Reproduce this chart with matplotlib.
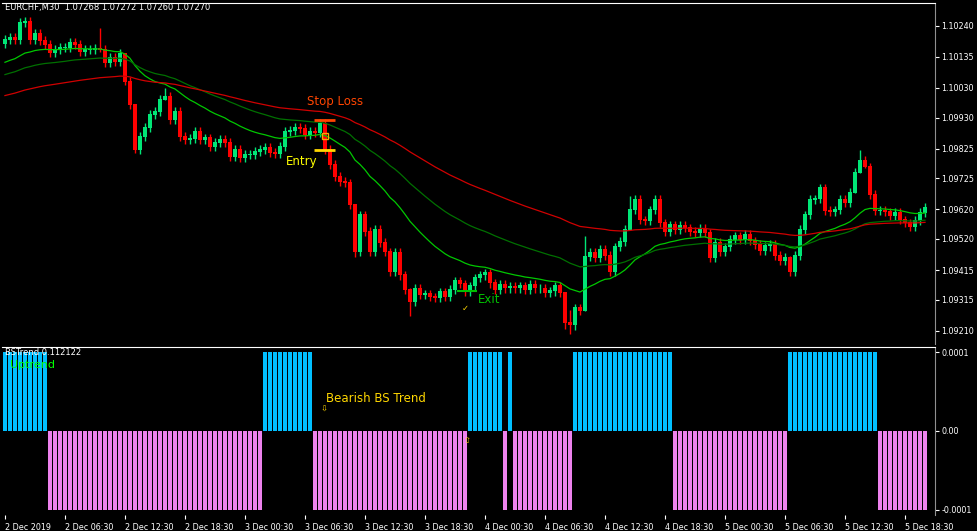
import matplotlib
matplotlib.use("Agg")
import matplotlib.pyplot as plt
import numpy as np

# closes EURCHF M30
closes = [
    1.10193, 1.10199, 1.10193, 1.10250, 1.10254, 1.10193, 1.10213, 1.10189, 1.10176, 1.10149,
    1.10159, 1.10166, 1.10166, 1.10183, 1.10176, 1.10152, 1.10159, 1.10159, 1.10162, 1.10159,
    1.10115, 1.10132, 1.10118, 1.10145, 1.10051, 1.09973, 1.09821, 1.09865, 1.09895, 1.09939,
    1.09949, 1.09990, 1.10000, 1.09922, 1.09949, 1.09865, 1.09855, 1.09858, 1.09882, 1.09855,
    1.09861, 1.09831, 1.09845, 1.09855, 1.09845, 1.09797, 1.09821, 1.09794, 1.09804, 1.09804,
    1.09814, 1.09821, 1.09828, 1.09811, 1.09807, 1.09831, 1.09882, 1.09885, 1.09895, 1.09892,
    1.09872, 1.09882, 1.09878, 1.09909, 1.09821, 1.09770, 1.09730, 1.09713, 1.09709, 1.09635,
    1.09476, 1.09601, 1.09544, 1.09476, 1.09551, 1.09507, 1.09476, 1.09409, 1.09473, 1.09398,
    1.09348, 1.09307, 1.09354, 1.09331, 1.09334, 1.09324, 1.09321, 1.09341, 1.09324, 1.09348,
    1.09378, 1.09368, 1.09341, 1.09361, 1.09388, 1.09398, 1.09405, 1.09371, 1.09348, 1.09365,
    1.09354, 1.09358, 1.09354, 1.09361, 1.09348, 1.09365, 1.09354, 1.09354, 1.09338, 1.09344,
    1.09361, 1.09338, 1.09236, 1.09229, 1.09287, 1.09277, 1.09459, 1.09473, 1.09456, 1.09483,
    1.09463, 1.09409, 1.09493, 1.09510, 1.09551, 1.09618, 1.09652, 1.09584, 1.09581, 1.09618,
    1.09652, 1.09574, 1.09544, 1.09567, 1.09551, 1.09564, 1.09557, 1.09544, 1.09540, 1.09554,
    1.09540, 1.09456, 1.09507, 1.09476, 1.09493, 1.09517, 1.09530, 1.09517, 1.09534, 1.09513,
    1.09500, 1.09480, 1.09496, 1.09500, 1.09463, 1.09446, 1.09456, 1.09409, 1.09463, 1.09551,
    1.09601, 1.09652, 1.09655, 1.09692, 1.09615, 1.09611, 1.09618, 1.09652, 1.09642, 1.09676,
    1.09743, 1.09784, 1.09763, 1.09669, 1.09615, 1.09615, 1.09611, 1.09598, 1.09608, 1.09584,
    1.09574, 1.09561, 1.09581, 1.09608, 1.09625,
]
first_open = 1.10180
# meches notables : index -> (plus haut, plus bas)
wick_extremes = {
    19: (1.10233, 1.10150), 24: (1.10060, 1.10040), 26: (1.09973, 1.09810),
    32: (1.10030, 1.09990), 70: (1.09635, 1.09460), 81: (1.09354, 1.09260),
    112: (1.09338, 1.09215), 113: (1.09280, 1.09200), 116: (1.09530, 1.09277),
    125: (1.09665, 1.09551), 157: (1.09463, 1.09395), 170: (1.09760, 1.09676),
    171: (1.09820, 1.09743), 172: (1.09800, 1.09760),
}
wick_default = 0.00015

# BSTrend : (signe, nombre de barres)
trend_runs = [(1, 9), (-1, 43), (1, 10), (-1, 31), (1, 7), (-1, 1), (1, 1),
              (-1, 12), (1, 20), (-1, 23), (1, 18), (-1, 10)]

price_ticks = [1.10240, 1.10135, 1.10030, 1.09930, 1.09825, 1.09725,
               1.09620, 1.09520, 1.09415, 1.09315, 1.09210]
time_labels = ["2 Dec 2019", "2 Dec 06:30", "2 Dec 12:30", "2 Dec 18:30",
               "3 Dec 00:30", "3 Dec 06:30", "3 Dec 12:30", "3 Dec 18:30",
               "4 Dec 00:30", "4 Dec 06:30", "4 Dec 12:30", "4 Dec 18:30",
               "5 Dec 00:30", "5 Dec 06:30", "5 Dec 12:30", "5 Dec 18:30"]

# moyennes mobiles (periode, valeur de depart, couleur)
ma_specs = [(24, 1.10110, "#00c800"), (48, 1.10070, "#007000"), (90, 1.10000, "#d00000")]

closes = np.array(closes)
n = len(closes)
idx = np.arange(n)
opens = np.concatenate([[first_open], closes[:-1]])
highs = np.maximum(opens, closes) + wick_default
lows = np.minimum(opens, closes) - wick_default
for k, (h, l) in wick_extremes.items():
    highs[k], lows[k] = h, l

def ema(values, period, seed):
    out = []
    a = 2.0 / (period + 1)
    v = seed
    for c in values:
        v = v + a * (c - v)
        out.append(v)
    return np.array(out)

fig = plt.figure(figsize=(9.77, 5.31), dpi=100, facecolor="black")
ax = fig.add_axes([0.002, 0.352, 0.955, 0.643], facecolor="black")
ax2 = fig.add_axes([0.002, 0.030, 0.955, 0.316], facecolor="black")

# bougies
up = closes >= opens
colors = np.where(up, "#00e676", "#ff0000")
ax.vlines(idx, lows, highs, colors=colors, linewidth=1)
ax.bar(idx, np.abs(closes - opens) + 0.00002, bottom=np.minimum(opens, closes),
       width=0.62, color=colors, linewidth=0)

for period, seed, col in ma_specs:
    ax.plot(idx, ema(closes, period, seed), color=col, linewidth=0.9)

xlim = (-0.6, 186.0)
ax.set_xlim(*xlim)
ax.set_ylim(1.09165, 1.10318)

# annotations
ax.text(0.0, 1.1030, "EURCHF,M30  1.07268 1.07272 1.07260 1.07270", color="white",
        fontsize=6, va="center")
ax.text(60.5, 1.09983, "Stop Loss", color="#ff4500", fontsize=8.5, va="center")
ax.hlines(1.09922, 61.8, 66.0, color="#ff4500", linewidth=2)
ax.hlines(1.09821, 61.8, 66.0, color="#ffd700", linewidth=2)
ax.plot(64, 1.09868, marker="s", ms=4, mfc="none", mec="#ffa500")
ax.text(56.2, 1.09783, "Entry", color="#ffff00", fontsize=8.5, va="center")
ax.text(94.5, 1.09314, "Exit", color="#00c000", fontsize=8.5, va="center")
ax.hlines(1.09345, 90.5, 94.5, color="#00c000", linewidth=1.5)
ax.text(92.0, 1.09287, "\u2713", color="#ffd700", fontsize=6, ha="center", va="center")

# histogramme BSTrend
signs = []
for s, count in trend_runs:
    signs += [s] * count
signs = np.array(signs)
bidx = np.arange(len(signs))
ax2.bar(bidx, signs * 0.0001, width=0.8, color=np.where(signs > 0, "#00bfff", "#ee82ee"),
        linewidth=0)
ax2.set_xlim(*xlim)
ax2.set_ylim(-0.000107, 0.000106)
ax2.text(0.0, 0.0001, "BSTrend 0.112122", color="white", fontsize=6, va="center")
ax2.text(1.0, 0.000083, "Uptrend", color="#00ff00", fontsize=8, va="center")
ax2.text(64.2, 0.000041, "Bearish BS Trend", color="#ffd700", fontsize=8.5, va="center")
ax2.text(63.8, 0.000027, "\u21e9", color="#ffd700", fontsize=6, ha="center", va="center")
ax2.text(92.4, -0.000012, "\u21e7", color="#ffd700", fontsize=6, ha="center", va="center")

for a in (ax, ax2):
    for side in ("left", "bottom"):
        a.spines[side].set_visible(False)
    a.spines["top"].set_color("white")
    a.spines["right"].set_color("#909090")
    a.yaxis.tick_right()
    a.tick_params(colors="white", labelsize=5.8, length=3, width=0.8, direction="out", pad=1.5)
    a.tick_params(axis="x", length=0)

ax.set_yticks(price_ticks)
ax.set_yticklabels(["%.5f" % p for p in price_ticks])
ax.set_xticks([])
ax2.set_yticks([0.0001, 0.0, -0.0001])
ax2.set_yticklabels(["0.0001", "0.00", "-0.0001"])
tick_pos = [12 * k for k in range(len(time_labels))]
ax2.set_xticks(tick_pos)
ax2.set_xticklabels(time_labels, ha="left")
ax2.tick_params(axis="x", labelsize=5.8, pad=3, length=3, color="white")

fig.savefig("out.png", dpi=100, facecolor="black")
